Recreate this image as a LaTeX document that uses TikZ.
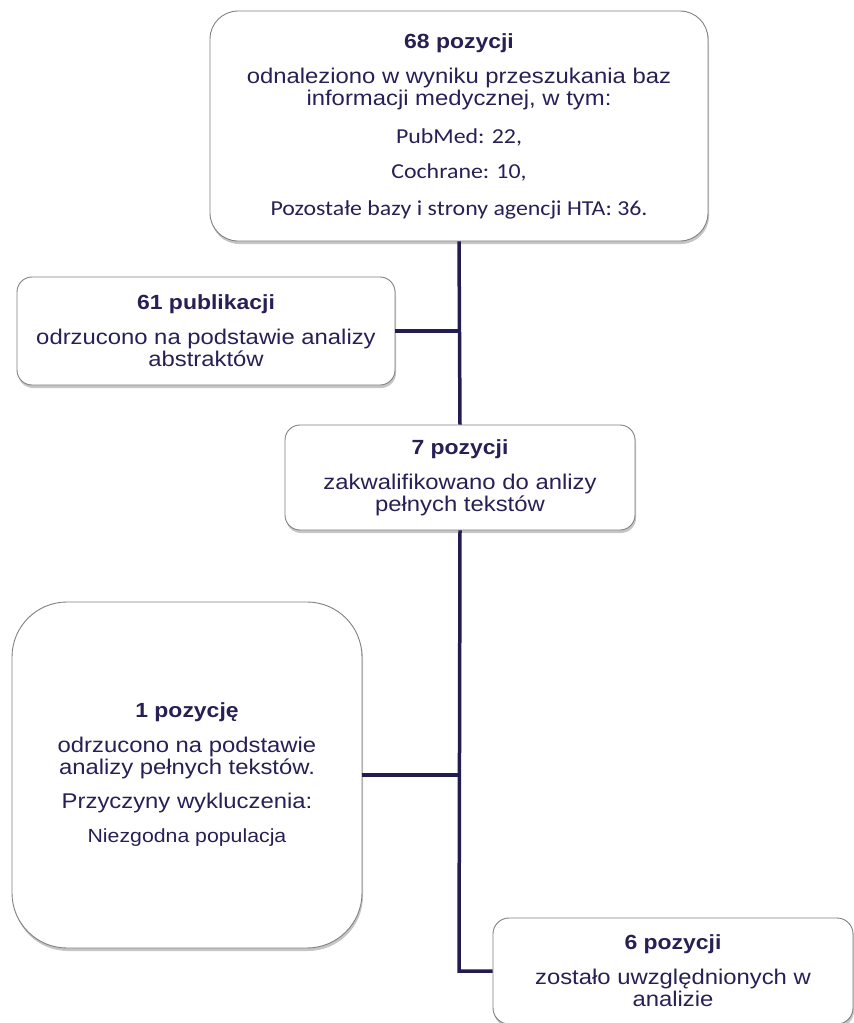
\documentclass[tikz,border=0pt]{standalone}
\usepackage{fontspec}
\usetikzlibrary{shadows}
\newfontfamily\arialf{Liberation Sans}[FakeStretch=1.12]
\newfontfamily\calf{Carlito}[FakeStretch=1.12]
\definecolor{txtc}{RGB}{40,32,85}
\definecolor{linec}{RGB}{35,28,80}
\definecolor{brd}{RGB}{128,128,128}
\tikzset{
  box/.style={draw=brd, line width=0.9pt, fill=white, inner sep=0pt, align=center,
    text=txtc, font=\arialf\fontsize{21.3}{22}\selectfont,
    drop shadow={shadow xshift=1pt, shadow yshift=-3pt, fill=black!50, opacity=0.45}},
  conn/.style={draw=linec, line width=3.5pt},
}
\newcommand{\ttl}[1]{{\fontsize{20.5}{22}\selectfont\bfseries #1}}
\begin{document}
\begin{tikzpicture}[x=1pt,y=-1pt]
\useasboundingbox (0,0) rectangle (854,1023);
\node[box, rounded corners=28pt, minimum width=498pt, minimum height=230pt] (top) at (459,126)
 {\ttl{68 pozycji}\\[13pt]
  odnaleziono w wyniku przeszukania baz\\
  informacji medycznej, w tym:\\[16pt]
  {\calf PubMed: 22,}\\[13pt]
  {\calf Cochrane: 10,}\\[15pt]
  {\calf Pozostałe bazy i strony agencji HTA: 36.}};
\node[box, rounded corners=15pt, minimum width=378pt, minimum height=108pt] (b61) at (206,331)
 {\ttl{61 publikacji}\\[13pt]
  odrzucono na podstawie analizy\\
  abstraktów};
\node[box, rounded corners=15pt, minimum width=350pt, minimum height=105pt] (b7) at (460,477.5)
 {\ttl{7 pozycji}\\[13pt]
  zakwalifikowano do anlizy\\
  pełnych tekstów};
\node[box, rounded corners=55pt, minimum width=350pt, minimum height=346pt] (b1) at (187,775)
 {\ttl{1 pozycję}\\[13pt]
  odrzucono na podstawie\\
  analizy pełnych tekstów.\\[12pt]
  Przyczyny wykluczenia:\\[12pt]
  {\fontsize{19}{20}\selectfont Niezgodna populacja}};
\node[box, rounded corners=16pt, minimum width=360pt, minimum height=106pt] (b6) at (673,971)
 {\ttl{6 pozycji}\\[13pt]
  zostało uwzględnionych w\\
  analizie};
\coordinate (j61) at (top.south |- b61.east);
\coordinate (j1) at (top.south |- b1.east);
\coordinate (j6) at (top.south |- b6.west);
\draw[conn] (top.south) -- (b7.north);
\draw[conn] (b61.east) -- (j61);
\draw[conn] (b7.south) -- (j6) -- (b6.west);
\draw[conn] (b1.east) -- (j1);
\end{tikzpicture}
\end{document}
